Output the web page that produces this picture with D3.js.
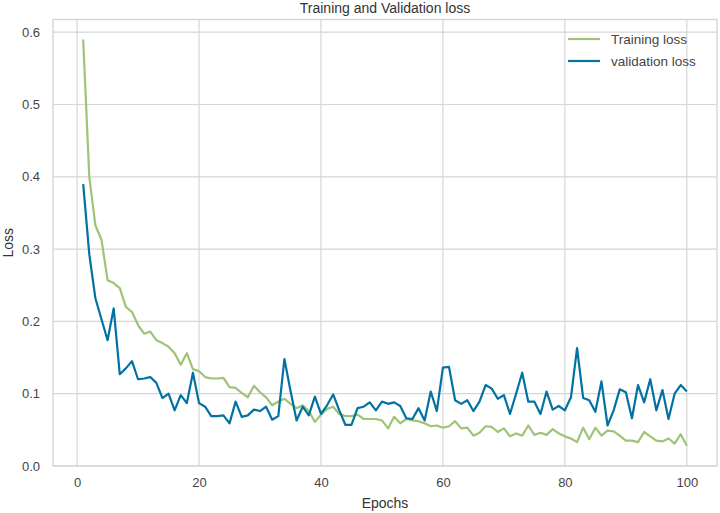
<!DOCTYPE html>
<html>
<head>
<meta charset="utf-8">
<script src="https://cdn.jsdelivr.net/npm/d3@7"></script>
<style>
  html, body { margin: 0; padding: 0; background: #fff; }
  svg { display: block; font-family: "Liberation Sans", Arial, sans-serif; }
</style>
</head>
<body>
<svg id="chart" width="720" height="513"></svg>
<script>
const epochs = d3.range(1, 101);
const trainingLoss = [
  0.590, 0.400, 0.333, 0.313, 0.257, 0.253, 0.246, 0.220, 0.213, 0.195,
  0.183, 0.186, 0.174, 0.170, 0.165, 0.156, 0.140, 0.156, 0.134, 0.131,
  0.123, 0.121, 0.121, 0.122, 0.109, 0.108, 0.101, 0.095, 0.111, 0.102,
  0.095, 0.084, 0.089, 0.093, 0.086, 0.080, 0.084, 0.076, 0.061, 0.071,
  0.079, 0.082, 0.072, 0.069, 0.069, 0.071, 0.065, 0.065, 0.065, 0.063,
  0.052, 0.068, 0.059, 0.065, 0.063, 0.062, 0.059, 0.055, 0.056, 0.053,
  0.055, 0.062, 0.052, 0.053, 0.042, 0.046, 0.055, 0.054, 0.047, 0.052,
  0.041, 0.045, 0.042, 0.056, 0.043, 0.046, 0.043, 0.051, 0.045, 0.041,
  0.038, 0.033, 0.053, 0.037, 0.053, 0.042, 0.049, 0.048, 0.042, 0.035,
  0.035, 0.033, 0.047, 0.041, 0.035, 0.034, 0.038, 0.031, 0.044, 0.028
];
const validationLoss = [
  0.390, 0.293, 0.232, 0.203, 0.174, 0.218, 0.127, 0.135, 0.145, 0.120,
  0.121, 0.123, 0.115, 0.094, 0.100, 0.077, 0.098, 0.087, 0.129, 0.087,
  0.082, 0.069, 0.069, 0.070, 0.059, 0.089, 0.068, 0.070, 0.078, 0.076,
  0.082, 0.064, 0.069, 0.148, 0.104, 0.063, 0.082, 0.070, 0.096, 0.072,
  0.084, 0.099, 0.077, 0.057, 0.057, 0.080, 0.082, 0.088, 0.077, 0.089,
  0.086, 0.088, 0.083, 0.066, 0.065, 0.080, 0.063, 0.103, 0.076, 0.136,
  0.137, 0.091, 0.086, 0.091, 0.076, 0.089, 0.112, 0.107, 0.093, 0.098,
  0.072, 0.100, 0.129, 0.089, 0.089, 0.072, 0.103, 0.078, 0.083, 0.077,
  0.095, 0.163, 0.094, 0.091, 0.075, 0.117, 0.056, 0.077, 0.106, 0.102,
  0.066, 0.112, 0.088, 0.120, 0.077, 0.105, 0.065, 0.100, 0.112, 0.103
];
const xTicks = [0, 20, 40, 60, 80, 100];
const yTicks = [0.0, 0.1, 0.2, 0.3, 0.4, 0.5, 0.6];
const seriesNames = ["Training loss", "validation loss"];
const seriesColors = ["#9fc377", "#0272a2"];
const titleText = "Training and Validation loss";
const xLabel = "Epochs";
const yLabel = "Loss";

(function () {
const svg = d3.select("#chart");
const pLeft = 53, pRight = 717, pTop = 19.5, pBottom = 466;

const x = d3.scaleLinear().domain([-3.95, 104.95]).range([pLeft, pRight]);
const y = d3.scaleLinear().domain([0, 0.6]).range([pBottom, 32.2]);

const gridColor = "#d6d6d6";

// grid
svg.append("g").selectAll("line").data(xTicks).join("line")
  .attr("x1", d => x(d)).attr("x2", d => x(d))
  .attr("y1", pTop).attr("y2", pBottom)
  .attr("stroke", gridColor).attr("stroke-width", 1.2);
svg.append("g").selectAll("line").data(yTicks).join("line")
  .attr("x1", pLeft).attr("x2", pRight)
  .attr("y1", d => y(d)).attr("y2", d => y(d))
  .attr("stroke", gridColor).attr("stroke-width", 1.2);

// frame
svg.append("rect").attr("x", pLeft).attr("y", pTop)
  .attr("width", pRight - pLeft).attr("height", pBottom - pTop)
  .attr("fill", "none").attr("stroke", gridColor).attr("stroke-width", 1.4);

// axes (labels only)
const xAxis = d3.axisBottom(x).tickValues(xTicks).tickFormat(d3.format("d")).tickSize(0).tickPadding(12);
const gx = svg.append("g").attr("transform", `translate(0,${pBottom})`).call(xAxis);
gx.select(".domain").remove();
gx.selectAll("text").attr("fill", "#444").style("font-size", "13px");

const yAxis = d3.axisLeft(y).tickValues(yTicks).tickFormat(d3.format(".1f")).tickSize(0).tickPadding(13);
const gy = svg.append("g").attr("transform", `translate(${pLeft},0)`).call(yAxis);
gy.select(".domain").remove();
gy.selectAll("text").attr("fill", "#444").style("font-size", "13px");

// lines
const line = d3.line().x((d, i) => x(epochs[i])).y(d => y(d));
[trainingLoss, validationLoss].forEach((s, k) => {
  svg.append("path").datum(s)
    .attr("fill", "none")
    .attr("stroke", seriesColors[k])
    .attr("stroke-width", 2.2)
    .attr("stroke-linejoin", "round")
    .attr("d", line);
});

// legend
const lg = svg.append("g");
seriesNames.forEach((name, k) => {
  const ly = 39 + k * 22;
  lg.append("line").attr("x1", 568).attr("x2", 600).attr("y1", ly).attr("y2", ly)
    .attr("stroke", seriesColors[k]).attr("stroke-width", 2.2);
  lg.append("text").attr("x", 611).attr("y", ly).attr("dy", "0.35em")
    .attr("fill", "#444").style("font-size", "13.5px").text(name);
});

// title and labels
svg.append("text").attr("x", (pLeft + pRight) / 2).attr("y", 13)
  .attr("text-anchor", "middle").attr("fill", "#333").style("font-size", "14px").text(titleText);
svg.append("text").attr("x", (pLeft + pRight) / 2).attr("y", 508)
  .attr("text-anchor", "middle").attr("fill", "#333").style("font-size", "14px").text(xLabel);
svg.append("text").attr("transform", `translate(13,${(pTop + pBottom) / 2}) rotate(-90)`)
  .attr("text-anchor", "middle").attr("fill", "#333").style("font-size", "14px").text(yLabel);
})();
</script>
</body>
</html>
